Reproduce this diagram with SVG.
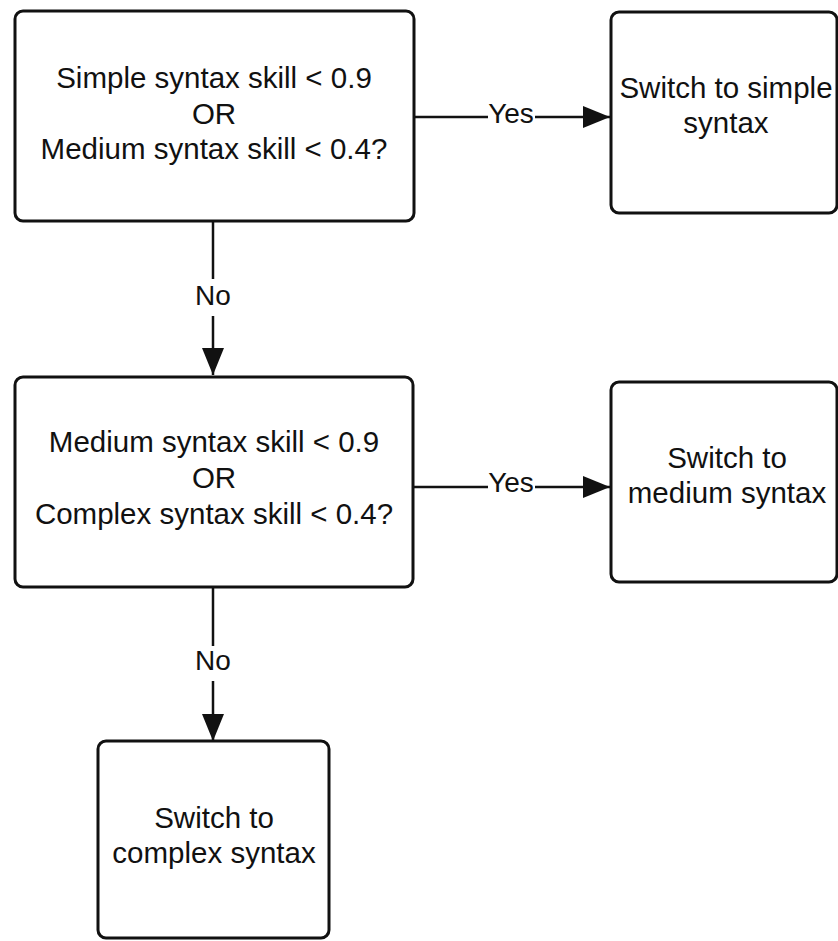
<svg xmlns="http://www.w3.org/2000/svg" width="838" height="941" viewBox="0 0 838 941">
<style>
.box{fill:#fff;stroke:#111;stroke-width:3}
.t{font-family:"Liberation Sans",Arial,sans-serif;font-size:29.5px;fill:#111;text-anchor:middle}
.lbl{font-family:"Liberation Sans",Arial,sans-serif;font-size:28px;fill:#111;text-anchor:middle}
.conn{fill:none;stroke:#111;stroke-width:2.5}
.bg{fill:#fff}
</style>
<defs>
<marker id="arr" markerUnits="userSpaceOnUse" markerWidth="28" markerHeight="22" refX="27" refY="11" orient="auto">
<path d="M0,0 L27,11 L0,22 z" fill="#111"/>
</marker>
</defs>
<rect width="838" height="941" fill="#fff"/>
<g id="connectors">
<path class="conn" d="M414,117 H610" marker-end="url(#arr)"/>
<path class="conn" d="M414,487 H610" marker-end="url(#arr)"/>
<path class="conn" d="M213,221 V375" marker-end="url(#arr)"/>
<path class="conn" d="M213,587 V741" marker-end="url(#arr)"/>
<rect class="bg" x="488" y="100" width="47" height="30"/>
<text class="lbl" x="511" y="123">Yes</text>
<rect class="bg" x="488" y="470" width="47" height="30"/>
<text class="lbl" x="511" y="492">Yes</text>
<rect class="bg" x="195" y="279" width="36" height="37"/>
<text class="lbl" x="213" y="305">No</text>
<rect class="bg" x="195" y="646" width="36" height="35"/>
<text class="lbl" x="213" y="670">No</text>
</g>
<g id="q1">
<rect class="box" x="15" y="11" width="399" height="210" rx="8"/>
<text class="t" x="214" y="88">Simple syntax skill &lt; 0.9</text>
<text class="t" x="214" y="124">OR</text>
<text class="t" x="214" y="159">Medium syntax skill &lt; 0.4?</text>
</g>
<g id="simple">
<rect class="box" x="611" y="12" width="226" height="201" rx="8"/>
<text class="t" x="726" y="98">Switch to simple</text>
<text class="t" x="726" y="133">syntax</text>
</g>
<g id="q2">
<rect class="box" x="15" y="377" width="398" height="210" rx="8"/>
<text class="t" x="214" y="452">Medium syntax skill &lt; 0.9</text>
<text class="t" x="214" y="488">OR</text>
<text class="t" x="214" y="524">Complex syntax skill &lt; 0.4?</text>
</g>
<g id="medium">
<rect class="box" x="611" y="382" width="226" height="200" rx="8"/>
<text class="t" x="727" y="468">Switch to</text>
<text class="t" x="727" y="503">medium syntax</text>
</g>
<g id="complex">
<rect class="box" x="98" y="741" width="231" height="197" rx="8"/>
<text class="t" x="214" y="828">Switch to</text>
<text class="t" x="214" y="863">complex syntax</text>
</g>
</svg>
